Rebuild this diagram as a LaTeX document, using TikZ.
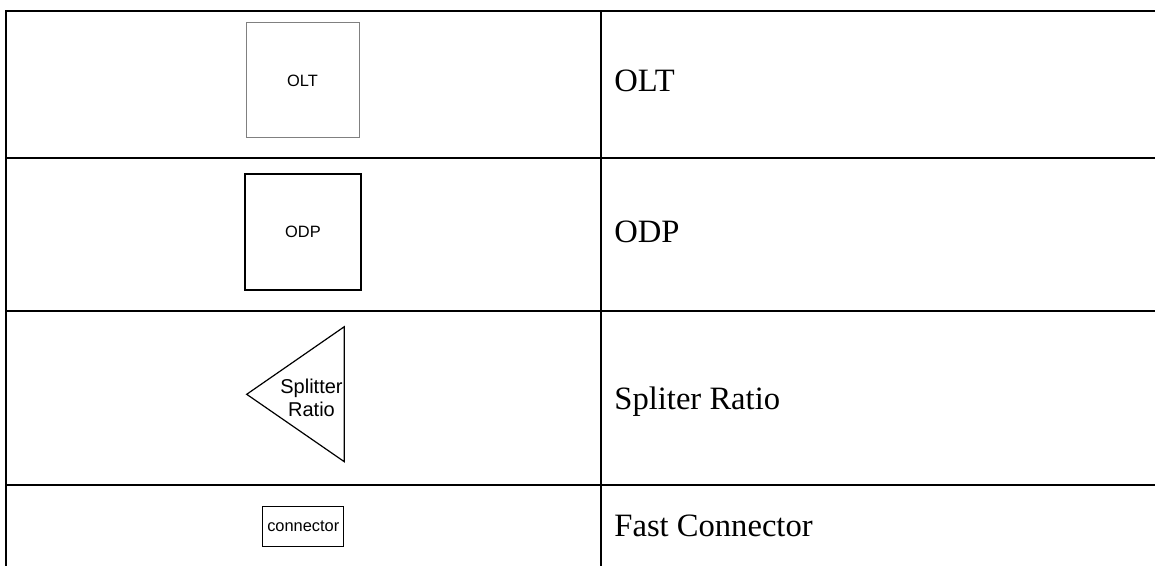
\documentclass[tikz,border=0pt]{standalone}
\usepackage{fontspec}
\setmainfont{Liberation Serif}
\setsansfont{Liberation Sans}
\usetikzlibrary{positioning}

\begin{document}
\begin{tikzpicture}[x=0.5pt,y=-0.5pt,font=\fontsize{16.3}{19}\selectfont]
% Styles: table rules, symbol boxes and labels
\tikzstyle{rule}=[line width=1pt];
\tikzstyle{icon}=[font=\sffamily\fontsize{8.2}{10}\selectfont];
\tikzstyle{olt box}=[icon,draw=gray,line width=0.5pt,minimum width=56.5pt,minimum height=57.5pt,inner sep=0];
\tikzstyle{odp box}=[icon,draw,line width=0.7pt,minimum width=58pt,minimum height=58pt,inner sep=0];
\tikzstyle{con box}=[icon,draw,line width=0.55pt,minimum width=40.5pt,minimum height=20pt,inner sep=0];
\tikzstyle{row text}=[anchor=base west,inner sep=0];
\useasboundingbox (0,0) rectangle (1155,566);
% The table
\draw[rule] (6,566) -- (6,11) -- (1155,11);
\draw[rule] (601,11) -- (601,566);
\foreach \y in {158,311,485}
\draw[rule] (6,\y) -- (1155,\y);
% Symbols
\node(olt)[olt box] at (302.5,80.5) {OLT};
\node(odp)[odp box] at (303,232) {ODP};
\draw[line width=0.6pt] (246.7,394.3) -- (344.3,326.7) -- (344.3,461.7) -- cycle;
\node(spl)[font=\sffamily\fontsize{10}{11.5}\selectfont,align=center,inner sep=0] at (311.5,398) {Splitter\\Ratio};
\node(con)[con box] at (303.3,526.5) {connector};
% Names
\foreach \y/\t [count=\i] in {92/OLT,243/ODP,409/Spliter Ratio,536/Fast Connector}
\node(name\i)[row text] at (614,\y) {\t};
\end{tikzpicture}
\end{document}
